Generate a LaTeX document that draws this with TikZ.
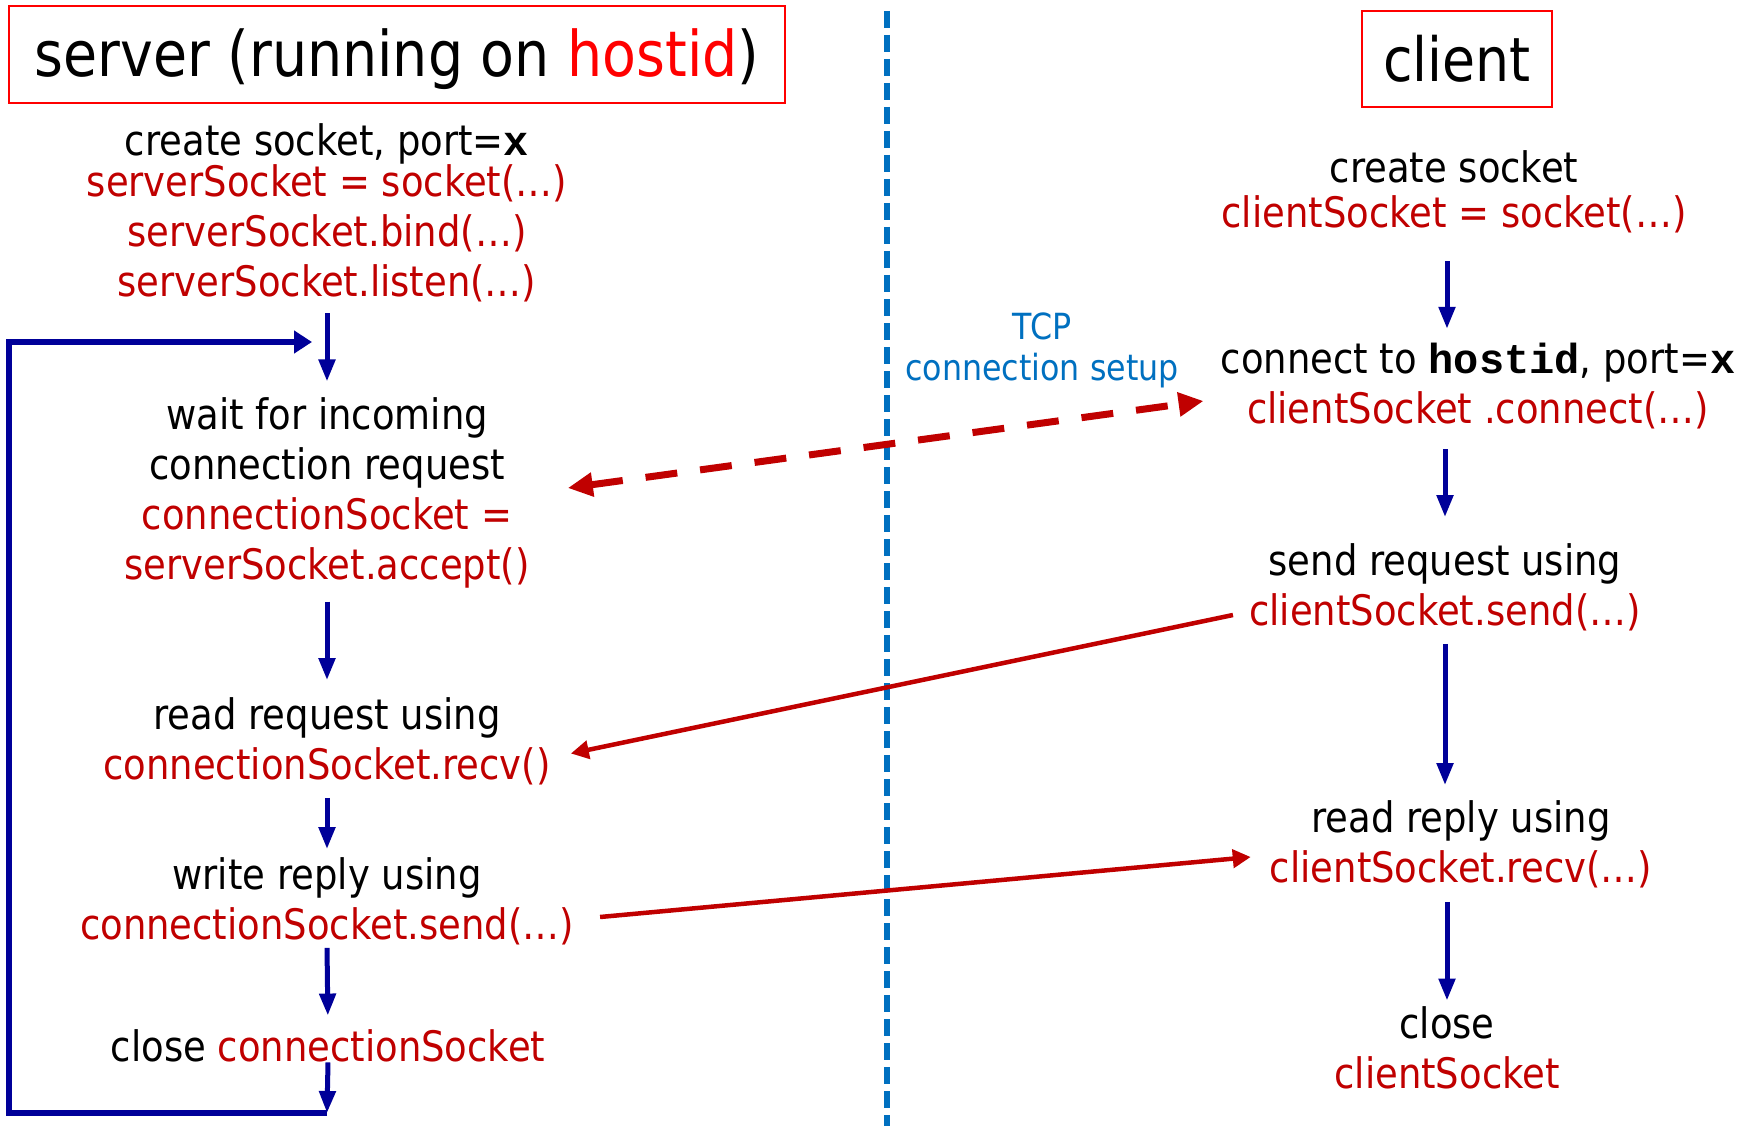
\documentclass[tikz,border=0pt]{standalone}
\usepackage{fontspec}
\setmainfont[FakeStretch=0.88]{DejaVu Sans}
\newfontfamily\cfont{Liberation Mono}
\usetikzlibrary{arrows.meta}
\definecolor{dred}{HTML}{C00000}
\definecolor{bred}{HTML}{FF0000}
\definecolor{navy}{HTML}{000099}
\definecolor{lblue}{HTML}{0070C0}
\newcommand{\code}[1]{{\cfont\bfseries #1}}
\newcommand{\rd}[1]{\textcolor{dred}{#1}}
\begin{document}
\begin{tikzpicture}[x=1pt,y=-1pt,
  txt/.style={font=\fontsize{42}{50}\selectfont, align=center, inner sep=0pt},
  titlebox/.style={draw=bred, line width=1.8pt, inner sep=0pt, align=center},
  flow/.style={draw=navy, line width=5pt, -{Triangle[length=22pt,width=16pt]}},
  loopline/.style={draw=navy, line width=5.5pt, -{Triangle[length=18pt,width=22pt]}},
  msg/.style={draw=dred, line width=4.5pt, -{Triangle[length=18pt,width=18pt]}},
  setup/.style={draw=dred, line width=7pt, dash pattern=on 32pt off 23pt,
     {Triangle[length=25pt,width=23pt]}-{Triangle[length=25pt,width=23pt]}},
  divider/.style={draw=lblue, line width=6pt, dash pattern=on 17pt off 7pt}]
\useasboundingbox (0,0) rectangle (1749,1126);
\fill[white] (0,0) rectangle (1749,1126);

% title boxes
\node[titlebox, minimum width=776pt, minimum height=97pt,
  font=\fontsize{63}{70}\selectfont] (srvtitle) at (397,54.5)
  {\raisebox{-22pt}[0pt][0pt]{server (running on \textcolor{bred}{hostid})}};
\node[titlebox, minimum width=190pt, minimum height=96pt,
  font=\fontsize{61}{70}\selectfont] (clititle) at (1457,59) {client};

% divider
\draw[divider] (887,11) -- (887,1126);

% server side
\node[txt] (srv1) at (327,213) {create socket, port=\code{x}\\[-9pt]
  \rd{serverSocket = socket(\dots)}\\
  \rd{serverSocket.bind(\dots)}\\
  \rd{serverSocket.listen(\dots)}};
\node[txt] (srv2) at (327,493) {wait for incoming\\connection request\\
  \rd{connectionSocket =}\\\rd{serverSocket.accept()}};
\node[txt] (srv3) at (327,741) {read request using\\\rd{connectionSocket.recv()}};
\node[txt] (srv4) at (327,901) {write reply using\\\rd{connectionSocket.send(\dots)}};
\node[txt] (srv5) at (328,1046) {close \rd{connectionSocket}};

% client side
\node[txt] (cli1) at (1454,192) {create socket\\[-5pt]\rd{clientSocket = socket(\dots)}};
\node[txt] (cli2) at (1478,386) {connect to \code{hostid}, port=\code{x}\\\rd{clientSocket .connect(\dots)}};
\node[txt] (cli3) at (1445,587) {send request using\\\rd{clientSocket.send(\dots)}};
\node[txt] (cli4) at (1461,844) {read reply using\\\rd{clientSocket.recv(\dots)}};
\node[txt] (cli5) at (1447,1048) {close\\\rd{clientSocket}};

\node[txt, font=\fontsize{36}{41}\selectfont, text=lblue] (tcp) at (1042,350)
  {TCP\\connection setup};

% server flow
\coordinate (loopin) at (312,342);
\coordinate (loopbot) at (327,1113);
\draw[flow, shorten <=11pt, shorten >=16pt] (srv1.south) -- (srv2.north);
\draw[flow, shorten <=13pt, shorten >=17pt] (srv2.south) -- (srv3.north);
\draw[flow, shorten <=13pt, shorten >=8pt] (srv3.south) -- (srv4.north);
\draw[flow, shorten <=3pt, shorten >=14pt] (srv4.south) -- (srv5.north);
\draw[flow] (srv5.south) -- (loopbot);
\draw[loopline] (loopbot) -| (9,342) -- (loopin);

% client flow
\draw[flow, shorten <=28pt, shorten >=14pt] (cli1.south -| cli5.north) -- (cli2.north -| cli5.north);
\draw[flow, shorten <=20pt, shorten >=26pt] (cli2.south -| cli3.north) -- (cli3.north);
\draw[flow, shorten <=13pt, shorten >=15pt] (cli3.south) -- (cli4.north -| cli3.north);
\draw[flow, shorten <=14pt, shorten >=6pt] (cli4.south -| cli5.north) -- (cli5.north);

% messages
\draw[setup] ([shift={(38,-5)}]srv2.east) -- ([shift={(-17,15)}]cli2.west);
\draw[msg] ([shift={(-16,28)}]cli3.west) -- ([shift={(20,12.5)}]srv3.east);
\draw[msg] ([shift={(26,16)}]srv4.east) -- ([shift={(-19,13)}]cli4.west);
\end{tikzpicture}
\end{document}
